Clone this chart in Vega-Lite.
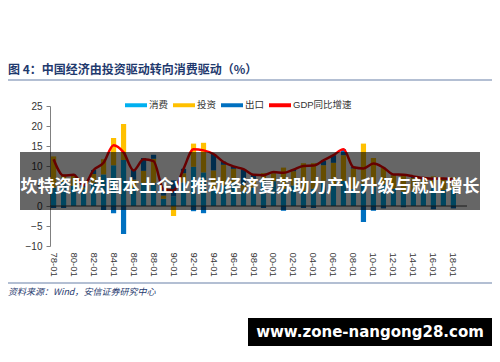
{
  "$schema": "https://vega.github.io/schema/vega-lite/v6.json",
  "width": 417,
  "height": 140,
  "autosize": {"type": "none"},
  "padding": {"left": 50, "top": 106, "right": 33, "bottom": 116},
  "background": "white",
  "config": {
    "view": {"stroke": null},
    "font": "Liberation Sans, Noto Sans CJK SC",
    "axis": {"labelOverlap": false},
    "axisY": {"tickCount": 8, "grid": false, "title": null, "domainColor": "#808080", "tickColor": "#808080", "tickSize": 4, "labelFontSize": 10, "labelColor": "#333333", "labelPadding": 4, "labelFont": "Liberation Sans"}
  },
  "title": {
    "text": "图 4：中国经济由投资驱动转向消费驱动（%）",
    "anchor": "start",
    "frame": "group",
    "dx": -42,
    "dy": 18,
    "offset": 20,
    "fontSize": 12,
    "fontWeight": "bold",
    "color": "#1F3A6E",
    "font": "Noto Sans CJK SC"
  },
  "data": {
    "values": [
      {"year": "78-01", "消费": 4.6, "投资": 7.8, "出口": -0.5, "GDP": 11.7},
      {"year": "79-01", "消费": 6.0, "投资": 1.9, "出口": -0.5, "GDP": 7.6},
      {"year": "80-01", "消费": 5.0, "投资": 2.6, "出口": 0.3, "GDP": 7.8},
      {"year": "81-01", "消费": 4.2, "投资": 0.4, "出口": 0.6, "GDP": 5.1},
      {"year": "82-01", "消费": 5.8, "投资": 2.2, "出口": 1.0, "GDP": 9.0},
      {"year": "83-01", "消费": 7.9, "投资": 3.8, "出口": -1.0, "GDP": 10.8},
      {"year": "84-01", "消费": 10.2, "投资": 6.8, "出口": -1.8, "GDP": 15.2},
      {"year": "85-01", "消费": 11.5, "投资": 9.0, "出口": -7.0, "GDP": 13.4},
      {"year": "86-01", "消费": 4.5, "投资": 2.1, "出口": 2.5, "GDP": 8.9},
      {"year": "87-01", "消费": 5.8, "投资": 3.0, "出口": 3.2, "GDP": 11.7},
      {"year": "88-01", "消费": 5.8, "投资": 6.0, "出口": 1.0, "GDP": 11.2},
      {"year": "89-01", "消费": 1.8, "投资": 0.8, "出口": 1.7, "GDP": 4.2},
      {"year": "90-01", "消费": 2.4, "投资": -2.5, "出口": 4.0, "GDP": 3.9},
      {"year": "91-01", "消费": 5.9, "投资": 2.3, "出口": 1.1, "GDP": 9.3},
      {"year": "92-01", "消费": 9.8, "投资": 5.8, "出口": -1.3, "GDP": 14.2},
      {"year": "93-01", "消费": 8.4, "投资": 7.4, "出口": -1.8, "GDP": 13.9},
      {"year": "94-01", "消费": 4.3, "投资": 4.6, "出口": 4.1, "GDP": 13.0},
      {"year": "95-01", "消费": 5.2, "投资": 5.1, "出口": 0.8, "GDP": 11.0},
      {"year": "96-01", "消费": 5.9, "投资": 3.4, "出口": 0.6, "GDP": 9.9},
      {"year": "97-01", "消费": 3.6, "投资": 1.6, "出口": 4.0, "GDP": 9.2},
      {"year": "98-01", "消费": 4.6, "投资": 2.2, "出口": 1.0, "GDP": 7.8},
      {"year": "99-01", "消费": 6.4, "投资": 1.8, "出口": -0.5, "GDP": 7.7},
      {"year": "00-01", "消费": 6.2, "投资": 2.0, "出口": 0.3, "GDP": 8.5},
      {"year": "01-01", "消费": 4.3, "投资": 5.3, "出口": -1.2, "GDP": 8.3},
      {"year": "02-01", "消费": 5.1, "投资": 3.6, "出口": 0.4, "GDP": 9.1},
      {"year": "03-01", "消费": 3.8, "投资": 6.9, "出口": -0.5, "GDP": 10.0},
      {"year": "04-01", "消费": 4.3, "投资": 6.4, "出口": -0.5, "GDP": 10.1},
      {"year": "05-01", "消费": 6.3, "投资": 3.9, "出口": 1.1, "GDP": 11.4},
      {"year": "06-01", "消费": 5.2, "投资": 5.6, "出口": 1.9, "GDP": 12.7},
      {"year": "07-01", "消费": 6.3, "投资": 6.4, "出口": 1.5, "GDP": 14.2},
      {"year": "08-01", "消费": 4.3, "投资": 5.1, "出口": 0.3, "GDP": 9.7},
      {"year": "09-01", "消费": 5.6, "投资": 10.0, "出口": -4.0, "GDP": 9.4},
      {"year": "10-01", "消费": 4.9, "投资": 7.1, "出口": -1.2, "GDP": 10.6},
      {"year": "11-01", "消费": 5.4, "投资": 4.2, "出口": -0.6, "GDP": 9.6},
      {"year": "12-01", "消费": 4.3, "投资": 3.4, "出口": 0.2, "GDP": 7.9},
      {"year": "13-01", "消费": 3.6, "投资": 4.4, "出口": -0.3, "GDP": 7.8},
      {"year": "14-01", "消费": 3.6, "投资": 3.4, "出口": 0.4, "GDP": 7.4},
      {"year": "15-01", "消费": 4.1, "投资": 2.9, "出口": 0.1, "GDP": 7.0},
      {"year": "16-01", "消费": 4.5, "投资": 2.9, "出口": -0.8, "GDP": 6.8},
      {"year": "17-01", "消费": 4.0, "投资": 2.6, "出口": 0.3, "GDP": 6.9},
      {"year": "18-01", "消费": 4.4, "投资": 2.8, "出口": -0.6, "GDP": 6.6}
    ]
  },
  "encoding": {
    "x": {
      "field": "year",
      "type": "ordinal",
      "sort": null,
      "scale": {
        "domain": ["78-01","79-01","80-01","81-01","82-01","83-01","84-01","85-01","86-01","87-01","88-01","89-01","90-01","91-01","92-01","93-01","94-01","95-01","96-01","97-01","98-01","99-01","00-01","01-01","02-01","03-01","04-01","05-01","06-01","07-01","08-01","09-01","10-01","11-01","12-01","13-01","14-01","15-01","16-01","17-01","18-01","19-01"],
        "paddingInner": 0.48,
        "paddingOuter": 0.1
      },
      "axis": {
        "values": ["78-01","80-01","82-01","84-01","86-01","88-01","90-01","92-01","94-01","96-01","98-01","00-01","02-01","04-01","06-01","08-01","10-01","12-01","14-01","16-01","18-01"],
        "labelAngle": 90,
        "domain": false,
        "ticks": false,
        "title": null,
        "labelFontSize": 9.5,
        "labelColor": "#333333",
        "labelPadding": 6
      }
    }
  },
  "layer": [
    {
      "transform": [{"fold": ["消费", "投资", "出口"], "as": ["series", "value"]}],
      "mark": {"type": "bar"},
      "encoding": {
        "y": {
          "field": "value",
          "type": "quantitative",
          "stack": "zero",
          "scale": {"domain": [-10, 25], "nice": false, "zero": false},
          "axis": {"values": [-10, -5, 0, 5, 10, 15, 20, 25]}
        },
        "color": {
          "field": "series",
          "type": "nominal",
          "sort": ["消费", "投资", "出口"],
          "scale": {
            "domain": ["消费", "投资", "出口", "GDP同比增速"],
            "range": ["#00B0F0", "#FFC000", "#0070C0", "#FF0000"]
          },
          "legend": {
            "orient": "none",
            "legendX": 75,
            "legendY": -12,
            "direction": "horizontal",
            "title": null,
            "symbolType": "M-1,-0.18H1V0.18H-1Z",
            "symbolSize": 484,
            "symbolStrokeWidth": 0,
            "labelFontSize": 9.5,
            "labelColor": "#333333",
            "columnPadding": 4,
            "labelOffset": 2
          }
        }
      }
    },
    {
      "data": {"values": [{}]},
      "mark": {"type": "rule", "color": "#404040", "strokeWidth": 1},
      "encoding": {"y": {"datum": 0, "type": "quantitative", "axis": {"values": [-10, -5, 0, 5, 10, 15, 20, 25]}}, "x": {"value": 0}, "x2": {"value": 417}}
    },
    {
      "mark": {"type": "line", "color": "#FF0000", "strokeWidth": 2.5, "interpolate": "monotone"},
      "encoding": {"y": {"field": "GDP", "type": "quantitative", "axis": {"values": [-10, -5, 0, 5, 10, 15, 20, 25]}}}
    },
    {
      "data": {"values": [{}]},
      "mark": {"type": "rect", "fill": "#000000", "fillOpacity": 0.6, "strokeWidth": 0},
      "encoding": {"x": {"value": -30}, "x2": {"value": 430}, "y": {"datum": 13.5, "type": "quantitative", "axis": {"values": [-10, -5, 0, 5, 10, 15, 20, 25]}}, "y2": {"datum": -1}}
    },
    {
      "data": {"values": [{}]},
      "mark": {"type": "text", "text": "坎特资助法国本土企业推动经济复苏助力产业升级与就业增长", "color": "white", "fontSize": 17, "fontWeight": "bold", "font": "Noto Sans CJK SC", "align": "center", "baseline": "middle"},
      "encoding": {"x": {"value": 200}, "y": {"datum": 4.75, "type": "quantitative", "axis": {"values": [-10, -5, 0, 5, 10, 15, 20, 25]}}}
    },
    {
      "data": {"values": [{}]},
      "mark": {"type": "rule", "color": "#9AAAC4", "strokeWidth": 1.5},
      "encoding": {"x": {"value": -42}, "x2": {"value": 442}, "y": {"datum": 31.5, "type": "quantitative", "axis": {"values": [-10, -5, 0, 5, 10, 15, 20, 25]}}}
    },
    {
      "data": {"values": [{}]},
      "mark": {"type": "rule", "color": "#9AAAC4", "strokeWidth": 1.5},
      "encoding": {"x": {"value": -42}, "x2": {"value": 442}, "y": {"datum": -19.25, "type": "quantitative", "axis": {"values": [-10, -5, 0, 5, 10, 15, 20, 25]}}}
    },
    {
      "data": {"values": [{}]},
      "mark": {"type": "text", "text": "资料来源：Wind，安信证券研究中心", "color": "#1F3A6E", "fontSize": 9, "fontStyle": "italic", "font": "Noto Sans CJK SC", "align": "left", "baseline": "middle"},
      "encoding": {"x": {"value": -42}, "y": {"datum": -21.5, "type": "quantitative", "axis": {"values": [-10, -5, 0, 5, 10, 15, 20, 25]}}}
    },
    {
      "data": {"values": [{}]},
      "mark": {"type": "rect", "fill": "#000000", "fillOpacity": 1},
      "encoding": {"x": {"value": 198}, "x2": {"value": 442}, "y": {"datum": -28, "type": "quantitative", "axis": {"values": [-10, -5, 0, 5, 10, 15, 20, 25]}}, "y2": {"datum": -35}}
    },
    {
      "data": {"values": [{}]},
      "mark": {"type": "text", "text": "www.zone-nangong28.com", "color": "white", "fontSize": 15, "fontWeight": "bold", "font": "DejaVu Sans", "align": "center", "baseline": "middle"},
      "encoding": {"x": {"value": 320}, "y": {"datum": -31.5, "type": "quantitative", "axis": {"values": [-10, -5, 0, 5, 10, 15, 20, 25]}}}
    }
  ]
}
